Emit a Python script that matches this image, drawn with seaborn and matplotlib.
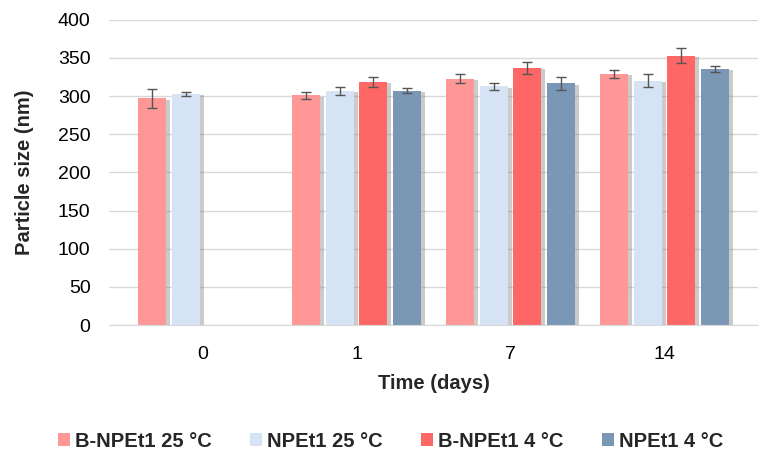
import numpy as np
import pandas as pd
import matplotlib
matplotlib.use("Agg")
import matplotlib.pyplot as plt
import matplotlib.patheffects as pe
import seaborn as sns

days = ["0", "1", "7", "14"]
series = ["B-NPEt1 25 °C", "NPEt1 25 °C", "B-NPEt1 4 °C", "NPEt1 4 °C"]
colors = ["#FF9797", "#D6E3F4", "#FF6666", "#7A97B5"]

b_npet1_25 = [297, 301, 323, 329]
npet1_25 = [303, 307, 313, 320]
b_npet1_4 = [np.nan, 319, 337, 353]
npet1_4 = [np.nan, 307, 317, 336]

b_npet1_25_err = [12, 5, 6, 5]
npet1_25_err = [3, 5, 4.5, 8.5]
b_npet1_4_err = [np.nan, 6.5, 7.5, 10]
npet1_4_err = [np.nan, 3.5, 8.5, 4]

values = [b_npet1_25, npet1_25, b_npet1_4, npet1_4]
errors = [b_npet1_25_err, npet1_25_err, b_npet1_4_err, npet1_4_err]

rows = []
for name, vals, errs in zip(series, values, errors):
    for d, v, e in zip(days, vals, errs):
        rows.append({"day": d, "series": name, "size": v, "err": e})
df = pd.DataFrame(rows)

sns.set_style("white")
plt.rcParams["font.family"] = ["Liberation Sans", "DejaVu Sans"]

fig = plt.figure(figsize=(7.7, 4.61), dpi=100)
ax = fig.add_axes([0.141, 0.295, 0.844, 0.662])

sns.barplot(
    data=df,
    x="day",
    y="size",
    hue="series",
    order=days,
    hue_order=series,
    palette=colors,
    saturation=1,
    width=0.874,
    gap=0.17,
    errorbar=None,
    linewidth=0,
    ax=ax,
)

# error bars on each drawn bar (seaborn skips the missing day-0 bars)
shadow = [pe.SimplePatchShadow(offset=(3, -1), shadow_rgbFace="#8c8c8c", alpha=0.45), pe.Normal()]
for container, name in zip(ax.containers, series):
    sub = df[(df["series"] == name) & df["size"].notna()].set_index("day")
    sub = sub.loc[[d for d in days if d in sub.index]]
    for bar, (_, row) in zip(container, sub.iterrows()):
        bar.set_path_effects(shadow)
        ax.errorbar(
            bar.get_x() + bar.get_width() / 2,
            row["size"],
            yerr=row["err"],
            fmt="none",
            ecolor="#555555",
            elinewidth=1,
            capsize=3.5,
            capthick=1,
            zorder=5,
        )

ax.set_ylim(0, 400)
ax.set_yticks(range(0, 401, 50))
ax.yaxis.grid(True, color="#d9d9d9", linewidth=1)
ax.set_axisbelow(True)
for side in ["left", "right", "top"]:
    ax.spines[side].set_visible(False)
ax.spines["bottom"].set_color("#d9d9d9")
ax.tick_params(axis="both", length=0, labelsize=14, colors="#000000")
ax.tick_params(axis="x", pad=15)
ax.tick_params(axis="y", pad=13)
ax.set_xlabel("Time (days)", fontsize=14.5, fontweight="bold", labelpad=8)
ax.set_ylabel("Particle size (nm)", fontsize=14.5, fontweight="bold", labelpad=17)

handles, labels = ax.get_legend_handles_labels()
ax.legend_.remove()
fig.legend(
    handles,
    labels,
    loc="center",
    bbox_to_anchor=(0.507, 0.043),
    ncol=4,
    frameon=False,
    prop={"size": 14.5, "weight": "bold"},
    handlelength=0.6,
    handleheight=0.6,
    handletextpad=0.25,
    columnspacing=1.9,
)

fig.savefig("out.png", dpi=100)
